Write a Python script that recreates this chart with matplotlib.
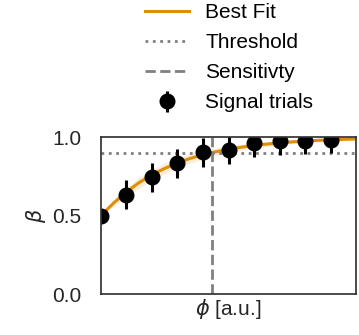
import numpy as np
import matplotlib
matplotlib.use('Agg')
import matplotlib.pyplot as plt

plt.rcParams['font.family'] = ['Liberation Sans', 'DejaVu Sans']
plt.rcParams['font.size'] = 15

# signal trials
trial_x = [0, 1, 2, 3, 4, 5, 6, 7, 8, 9]
trial_beta = [0.50, 0.632, 0.743, 0.832, 0.902, 0.917, 0.960, 0.973, 0.977, 0.981]
trial_err = [0.0, 0.093, 0.093, 0.092, 0.092, 0.088, 0.087, 0.086, 0.085, 0.085]

# best fit curve and its band
fit_x = [0, 0.5, 1, 1.5, 2, 2.5, 3, 3.5, 4, 4.5, 5, 5.5, 6, 6.5, 7, 7.5, 8, 8.5, 9, 9.5, 10]
fit_beta = [0.50, 0.58, 0.65, 0.71, 0.76, 0.80, 0.835, 0.864, 0.887, 0.906, 0.922,
            0.935, 0.946, 0.955, 0.963, 0.969, 0.974, 0.979, 0.982, 0.985, 0.988]
fit_band = [0.01, 0.02, 0.03, 0.035, 0.035, 0.035, 0.032, 0.03, 0.028, 0.025, 0.022,
            0.02, 0.018, 0.016, 0.014, 0.012, 0.011, 0.01, 0.009, 0.008, 0.007]

threshold = 0.9
sensitivity = 4.34

orange = '#de8f05'
grey = '#808080'

fig = plt.figure(figsize=(3.59, 3.35), dpi=100)
ax = fig.add_axes([0.281, 0.122, 0.711, 0.469])

fx = np.array(fit_x)
fy = np.array(fit_beta)
fb = np.array(fit_band)
ax.fill_between(fx, fy - fb, fy + fb, color=orange, alpha=0.15, lw=0)
ax.plot(fx, fy, color=orange, lw=2.2, label='Best Fit')
ax.axhline(threshold, color=grey, ls=':', lw=2, label='Threshold')
ax.axvline(sensitivity, color=grey, ls='--', lw=2, label='Sensitivty')
ax.errorbar(trial_x, trial_beta, yerr=trial_err, fmt='o', color='black', ms=10.5,
            elinewidth=2.2, capsize=0, label='Signal trials', zorder=5)

ax.set_xlim(0, 10)
ax.set_ylim(0, 1.0)
ax.set_xticks([])
ax.set_yticks([0.0, 0.5, 1.0])
ax.tick_params(length=0, pad=14, colors='#262626')
ax.set_xlabel(r'$\phi$ [a.u.]', color='#262626', labelpad=2)
ax.set_ylabel(r'$\beta$', color='#262626', labelpad=3)
for s in ax.spines.values():
    s.set_color('#333333')
    s.set_linewidth(1.25)
    s.set_zorder(6)

fig.legend(loc='upper left', bbox_to_anchor=(0.404, 0.99), frameon=False,
           borderpad=0, borderaxespad=0, handlelength=2.1, handletextpad=0.78,
           labelspacing=0.53)

fig.savefig('out.png', dpi=100)
